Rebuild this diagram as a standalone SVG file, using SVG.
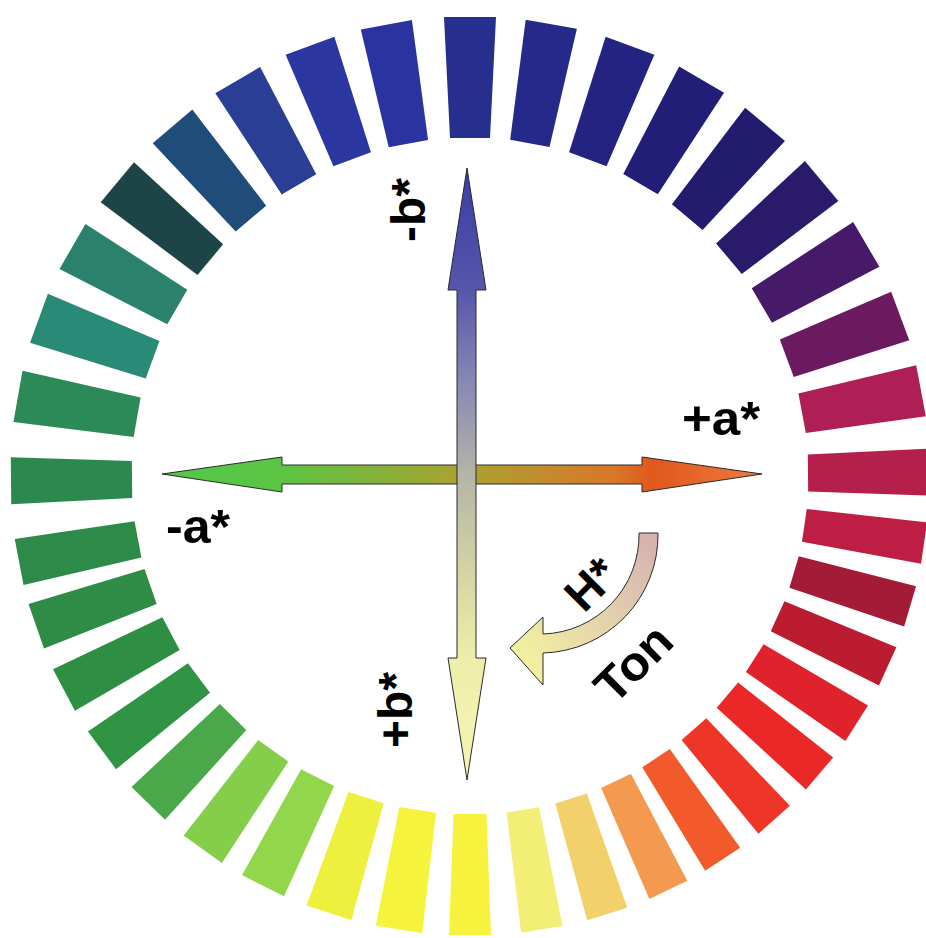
<svg xmlns="http://www.w3.org/2000/svg" width="926" height="938" viewBox="0 0 926 938">
  <style>
    .lbl { font-family: "Liberation Sans", Arial, sans-serif; font-weight: bold; fill: #000; }
    .arrow { stroke: #2a2a2a; stroke-width: 1; stroke-linejoin: miter; }
  </style>
  <defs>
    <polygon id="tA" points="444,17 496,17 490,138 450,138"/>
    <polygon id="tB" points="446.5,17 493.5,17 488.5,138 451.5,138"/>
    <polygon id="tC" points="449,17 491,17 486.5,138 453.5,138"/>
    <linearGradient id="gH" gradientUnits="userSpaceOnUse" x1="162" y1="0" x2="762" y2="0">
      <stop offset="0" stop-color="#52c84a"/>
      <stop offset="0.2" stop-color="#5cc444"/>
      <stop offset="0.5" stop-color="#aaa232"/>
      <stop offset="0.75" stop-color="#d8782a"/>
      <stop offset="0.82" stop-color="#e0581c"/>
      <stop offset="1" stop-color="#f07a40"/>
    </linearGradient>
    <linearGradient id="gV" gradientUnits="userSpaceOnUse" x1="0" y1="168" x2="0" y2="780">
      <stop offset="0" stop-color="#3c3ca6"/>
      <stop offset="0.2" stop-color="#5656aa"/>
      <stop offset="0.35" stop-color="#8888b4"/>
      <stop offset="0.5" stop-color="#b4b4a8"/>
      <stop offset="0.7" stop-color="#dcdca4"/>
      <stop offset="0.8" stop-color="#eeeeaa"/>
      <stop offset="1" stop-color="#f6f4b4"/>
    </linearGradient>
    <linearGradient id="gC" gradientUnits="userSpaceOnUse" x1="650" y1="530" x2="520" y2="650">
      <stop offset="0" stop-color="#d6b0ae"/>
      <stop offset="0.5" stop-color="#e2d0ae"/>
      <stop offset="1" stop-color="#f2f0a0"/>
    </linearGradient>
  </defs>

  <g id="hue-ring">
    <use href="#tA" transform="rotate(0 470 476)" fill="#262f8e"/>
    <use href="#tA" transform="rotate(10.2 470 476)" fill="#24298a"/>
    <use href="#tA" transform="rotate(20.4 470 476)" fill="#232382"/>
    <use href="#tA" transform="rotate(30.3 470 476)" fill="#221e78"/>
    <use href="#tA" transform="rotate(40 470 476)" fill="#221b6e"/>
    <use href="#tA" transform="rotate(50 470 476)" fill="#291a6a"/>
    <use href="#tA" transform="rotate(59.7 470 476)" fill="#461a68"/>
    <use href="#tA" transform="rotate(69.6 470 476)" fill="#6c1a60"/>
    <use href="#tA" transform="rotate(79.3 470 476)" fill="#ad1f55"/>
    <use href="#tB" transform="rotate(89.5 470 476)" fill="#b41f4c"/>
    <use href="#tC" transform="rotate(98.4 470 476)" fill="#be1e44"/>
    <use href="#tC" transform="rotate(106.5 470 476)" fill="#a41b38"/>
    <use href="#tC" transform="rotate(114.5 470 476)" fill="#bc1c30"/>
    <use href="#tC" transform="rotate(122.6 470 476)" fill="#e0222c"/>
    <use href="#tC" transform="rotate(130.4 470 476)" fill="#ea2828"/>
    <use href="#tC" transform="rotate(138.5 470 476)" fill="#ee3628"/>
    <use href="#tC" transform="rotate(146.6 470 476)" fill="#f25a2c"/>
    <use href="#tC" transform="rotate(154.4 470 476)" fill="#f49a50"/>
    <use href="#tC" transform="rotate(162.6 470 476)" fill="#f2d06a"/>
    <use href="#tC" transform="rotate(171 470 476)" fill="#f3ee76"/>
    <use href="#tC" transform="rotate(180 470 476)" fill="#f7f23e"/>
    <use href="#tB" transform="rotate(188.9 470 476)" fill="#f5f33c"/>
    <use href="#tB" transform="rotate(197.9 470 476)" fill="#eef03e"/>
    <use href="#tB" transform="rotate(206.8 470 476)" fill="#92d64c"/>
    <use href="#tB" transform="rotate(215.6 470 476)" fill="#84ce4a"/>
    <use href="#tB" transform="rotate(224.5 470 476)" fill="#4aa84a"/>
    <use href="#tB" transform="rotate(233.3 470 476)" fill="#309444"/>
    <use href="#tB" transform="rotate(242.2 470 476)" fill="#2e8e44"/>
    <use href="#tB" transform="rotate(250.9 470 476)" fill="#2e8c46"/>
    <use href="#tB" transform="rotate(259.2 470 476)" fill="#2d8a48"/>
    <use href="#tB" transform="rotate(269.4 470 476)" fill="#2b884e"/>
    <use href="#tA" transform="rotate(280 470 476)" fill="#2b8a58"/>
    <use href="#tA" transform="rotate(290.1 470 476)" fill="#2a8a78"/>
    <use href="#tA" transform="rotate(300 470 476)" fill="#2a826c"/>
    <use href="#tA" transform="rotate(309.8 470 476)" fill="#1d4446"/>
    <use href="#tA" transform="rotate(319.6 470 476)" fill="#204c7a"/>
    <use href="#tA" transform="rotate(329.6 470 476)" fill="#293e94"/>
    <use href="#tA" transform="rotate(339.6 470 476)" fill="#2c36a0"/>
    <use href="#tA" transform="rotate(349.5 470 476)" fill="#2b33a0"/>
  </g>

  <g id="connectors">
    <polygon id="a-axis" class="arrow" fill="url(#gH)" points="162,474 282,457 282,465 642,465 642,457 762,474 642,492 642,484 282,484 282,492"/>
    <polygon id="b-axis" class="arrow" fill="url(#gV)" points="467,168 486,290 476,290 476,658 486,658 467,780 448,658 457,658 457,290 448,290"/>
    <path id="hue-arrow" class="arrow" fill="url(#gC)" d="M 639,533 L 658,533 A 118 118 0 0 1 543,653 L 543,685 L 510,648 L 543,617 L 543,634 A 99 99 0 0 0 639,533 Z"/>
  </g>

  <g id="label-minus-b"><text class="lbl" font-size="48" transform="translate(425,242) rotate(-90)">-b*</text></g>
  <g id="label-plus-b"><text class="lbl" font-size="48" transform="translate(412,748) rotate(-90)">+b*</text></g>
  <g id="label-plus-a"><text class="lbl" font-size="48" x="682" y="435" textLength="78" lengthAdjust="spacingAndGlyphs">+a*</text></g>
  <g id="label-minus-a"><text class="lbl" font-size="48" x="166" y="543" textLength="64" lengthAdjust="spacingAndGlyphs">-a*</text></g>
  <g id="label-h"><text class="lbl" font-size="47" transform="translate(584,614) rotate(-45)">H*</text></g>
  <g id="label-ton"><text class="lbl" font-size="48" transform="translate(614,706) rotate(-45)" textLength="88" lengthAdjust="spacingAndGlyphs">Ton</text></g>
</svg>
